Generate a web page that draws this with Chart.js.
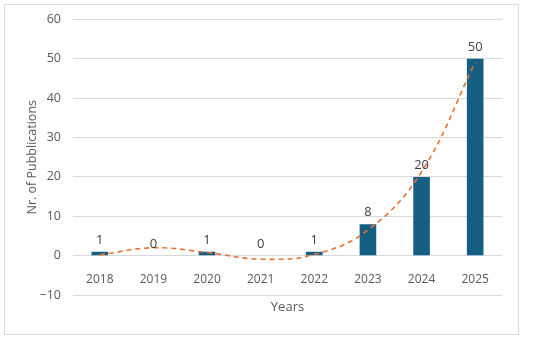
<!DOCTYPE html>
<html>
<head>
<meta charset="utf-8">
<script src="https://cdn.jsdelivr.net/npm/chart.js@4/dist/chart.umd.min.js"></script>
<style>
  html, body { margin: 0; padding: 0; background: #fff; }
  #wrap { position: relative; width: 550px; height: 340px; }
</style>
</head>
<body>
<div id="wrap"><canvas id="c" width="550" height="340"></canvas></div>
<script>
const years = ['2018', '2019', '2020', '2021', '2022', '2023', '2024', '2025'];
const publications = [1, 0, 1, 0, 1, 8, 20, 50];
const trendValues = [0.2, 2.0, 0.8, -0.9, 0.3, 6.5, 21.3, 49.2];
const yTicks = [-10, 0, 10, 20, 30, 40, 50, 60];

const FONT = 'Open Sans, Liberation Sans, sans-serif';
const TEXT = '#595959';

const frame = {
  id: 'frame',
  beforeDraw(chart) {
    const ctx = chart.ctx;
    ctx.save();
    ctx.fillStyle = '#fff';
    ctx.fillRect(0, 0, chart.width, chart.height);
    ctx.strokeStyle = '#d9d9d9';
    ctx.lineWidth = 1;
    ctx.strokeRect(4.5, 4.5, 514, 330);
    ctx.restore();
  }
};

const barLabels = {
  id: 'barLabels',
  afterDatasetsDraw(chart) {
    const ctx = chart.ctx;
    const meta = chart.getDatasetMeta(1);
    ctx.save();
    ctx.font = '13px ' + FONT;
    ctx.fillStyle = '#404040';
    ctx.textAlign = 'center';
    ctx.textBaseline = 'bottom';
    meta.data.forEach((bar, i) => {
      ctx.fillText(String(publications[i]), bar.x, bar.y - 5);
    });
    ctx.restore();
  }
};

new Chart(document.getElementById('c'), {
  data: {
    labels: years,
    datasets: [
      {
        type: 'line',
        label: 'Trend',
        data: trendValues,
        borderColor: '#E97132',
        borderWidth: 1.6,
        borderDash: [5, 4],
        pointRadius: 0,
        tension: 0.4,
        fill: false,
        order: 0
      },
      {
        type: 'bar',
        label: 'Nr. of Pubblications',
        data: publications,
        backgroundColor: '#156082',
        barPercentage: 0.31,
        categoryPercentage: 1,
        order: 1
      }
    ]
  },
  options: {
    responsive: false,
    animation: false,
    layout: { padding: { left: 20, right: 48, top: 16, bottom: 0 } },
    plugins: { legend: { display: false }, tooltip: { enabled: false } },
    scales: {
      x: {
        type: 'category',
        position: { y: 0 },
        grid: { display: false },
        border: { display: false },
        ticks: { color: TEXT, font: { family: FONT, size: 12 }, padding: 9, maxRotation: 0 }
      },
      x2: {
        type: 'category',
        labels: years,
        position: 'bottom',
        grid: { display: false, drawTicks: false },
        border: { display: false },
        ticks: { display: false },
        title: { display: true, text: 'Years', color: TEXT, font: { family: FONT, size: 13 }, padding: { top: 0, bottom: 25 } },
        afterFit(scale) { scale.height = 45; }
      },
      y: {
        min: -10,
        max: 60,
        afterBuildTicks(scale) { scale.ticks = yTicks.map(v => ({ value: v })); },
        grid: { color: '#d9d9d9', lineWidth: 1, drawTicks: false },
        border: { display: false },
        ticks: {
          color: TEXT,
          font: { family: FONT, size: 12.5 },
          padding: 12,
          callback: v => v < 0 ? '\u2212' + Math.abs(v) : String(v)
        },
        title: { display: true, text: 'Nr. of Pubblications', color: TEXT, font: { family: FONT, size: 12.5 }, padding: { top: 5, bottom: 0 } },
        afterFit(scale) { scale.width = 53; }
      }
    }
  },
  plugins: [frame, barLabels]
});
</script>
</body>
</html>
